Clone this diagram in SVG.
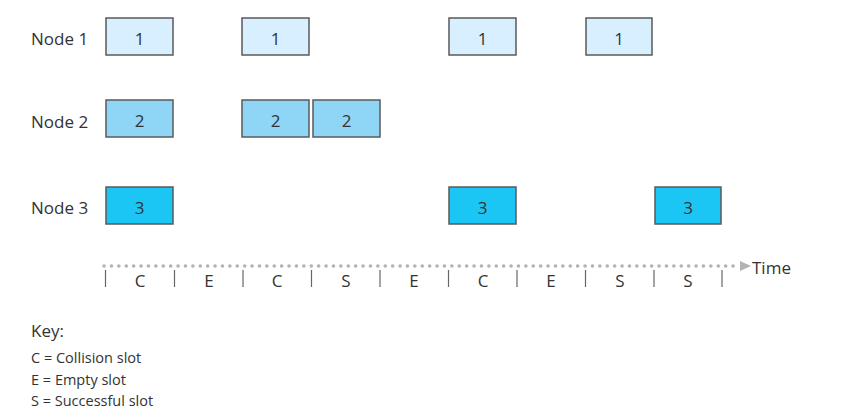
<svg xmlns="http://www.w3.org/2000/svg" width="852" height="420" viewBox="0 0 852 420">
<defs>
<style>
text{font-family:"Open Sans","Noto Sans",sans-serif;fill:#333}
.lbl{font-size:17px}
.num{font-size:17px;text-anchor:middle}
.box{stroke:#5a5a5a;stroke-width:1.5}
.n1{fill:#d7efff}
.n2{fill:#8fd5f6}
.n3{fill:#1cc6f4}
.tick{stroke:#666;stroke-width:1.2}
.slot{font-size:17px;text-anchor:middle}
.key{font-size:14.5px}
</style>
<marker id="arr" markerWidth="14" markerHeight="14" refX="-4" refY="5" orient="auto" markerUnits="userSpaceOnUse">
<path d="M0,0 L11,5 L0,10 Z" fill="#b3b3b3"/>
</marker>
</defs>
<rect width="852" height="420" fill="#fff"/>
<text class="lbl" x="31" y="45">Node 1</text>
<text class="lbl" x="31" y="128">Node 2</text>
<text class="lbl" x="31" y="214">Node 3</text>
<g id="node1">
<g id="n1a"><rect class="box n1" x="106" y="18" width="67" height="37"/><text class="num" x="139.5" y="45">1</text></g>
<g id="n1b"><rect class="box n1" x="242" y="18" width="67" height="37"/><text class="num" x="275.5" y="45">1</text></g>
<g id="n1c"><rect class="box n1" x="449" y="18" width="67" height="37"/><text class="num" x="482.5" y="45">1</text></g>
<g id="n1d"><rect class="box n1" x="586" y="18" width="66" height="37"/><text class="num" x="619" y="45">1</text></g>
</g>
<g id="node2">
<g id="n2a"><rect class="box n2" x="106" y="100" width="67" height="37"/><text class="num" x="139.5" y="127">2</text></g>
<g id="n2b"><rect class="box n2" x="242" y="100" width="67" height="37"/><text class="num" x="275.5" y="127">2</text></g>
<g id="n2c"><rect class="box n2" x="313" y="100" width="67" height="37"/><text class="num" x="346.5" y="127">2</text></g>
</g>
<g id="node3">
<g id="n3a"><rect class="box n3" x="106" y="187" width="67" height="37"/><text class="num" x="139.5" y="214">3</text></g>
<g id="n3b"><rect class="box n3" x="449" y="187" width="67" height="37"/><text class="num" x="482.5" y="214">3</text></g>
<g id="n3c"><rect class="box n3" x="655" y="187" width="66" height="37"/><text class="num" x="688" y="214">3</text></g>
</g>
<g id="connectors">
<line x1="104" y1="266" x2="736" y2="266" stroke="#b3b3b3" stroke-width="3.5" stroke-linecap="round" stroke-dasharray="0.1 7.3" marker-end="url(#arr)"/>
<g class="ticks">
<line class="tick" x1="105.5" y1="270" x2="105.5" y2="287"/>
<line class="tick" x1="174.5" y1="270" x2="174.5" y2="287"/>
<line class="tick" x1="243" y1="270" x2="243" y2="287"/>
<line class="tick" x1="311.5" y1="270" x2="311.5" y2="287"/>
<line class="tick" x1="380" y1="270" x2="380" y2="287"/>
<line class="tick" x1="448.5" y1="270" x2="448.5" y2="287"/>
<line class="tick" x1="517" y1="270" x2="517" y2="287"/>
<line class="tick" x1="585.5" y1="270" x2="585.5" y2="287"/>
<line class="tick" x1="654" y1="270" x2="654" y2="287"/>
<line class="tick" x1="722" y1="270" x2="722" y2="287"/>
</g>
</g>
<text class="lbl" x="752" y="274">Time</text>
<text class="slot" x="140" y="287">C</text>
<text class="slot" x="209" y="287">E</text>
<text class="slot" x="277" y="287">C</text>
<text class="slot" x="346" y="287">S</text>
<text class="slot" x="414" y="287">E</text>
<text class="slot" x="483" y="287">C</text>
<text class="slot" x="551" y="287">E</text>
<text class="slot" x="620" y="287">S</text>
<text class="slot" x="688" y="287">S</text>
<text class="lbl" x="31" y="337">Key:</text>
<text class="key" x="31" y="363">C = Collision slot</text>
<text class="key" x="31" y="385">E = Empty slot</text>
<text class="key" x="31" y="406">S = Successful slot</text>
</svg>
